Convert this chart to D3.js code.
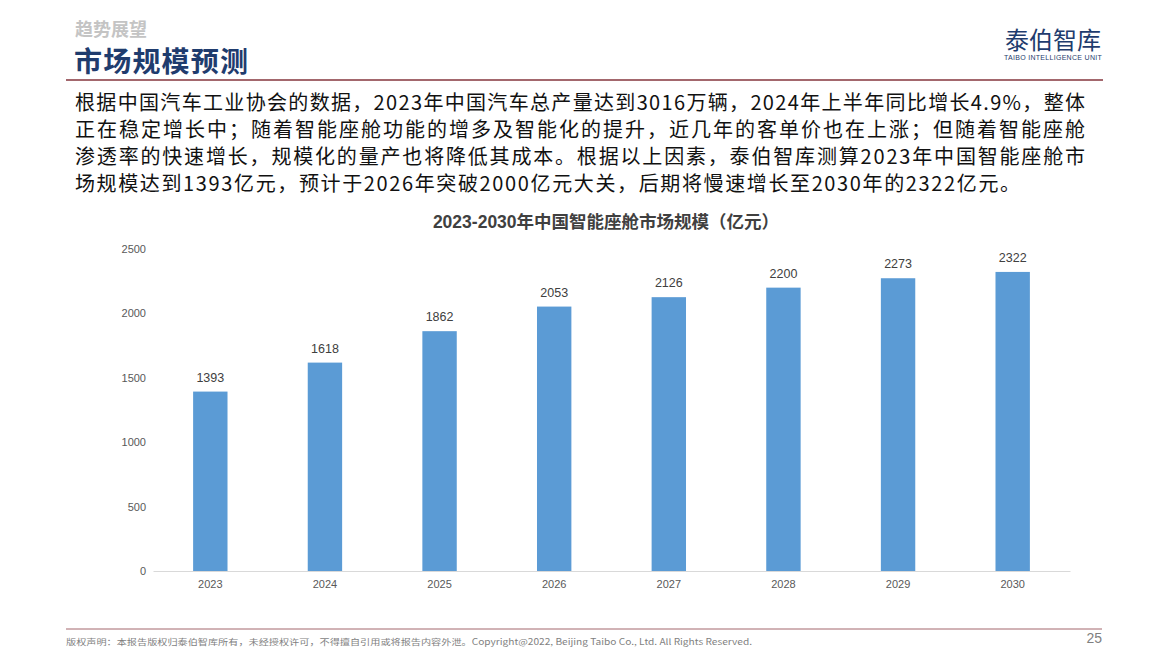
<!DOCTYPE html>
<html><head><meta charset="utf-8">
<script src="https://cdn.jsdelivr.net/npm/d3@7"></script>
<style>
html,body{margin:0;padding:0;background:#fff;}
svg{display:block;}
</style></head>
<body>
<svg id="c" width="1167" height="654"></svg>
<script>
const years = ["2023","2024","2025","2026","2027","2028","2029","2030"];
const values = [1393,1618,1862,2053,2126,2200,2273,2322];
const yTicks = [0,500,1000,1500,2000,2500];
const paragraph = [
  "根据中国汽车工业协会的数据，2023年中国汽车总产量达到3016万辆，2024年上半年同比增长4.9%，整体",
  "正在稳定增长中；随着智能座舱功能的增多及智能化的提升，近几年的客单价也在上涨；但随着智能座舱",
  "渗透率的快速增长，规模化的量产也将降低其成本。根据以上因素，泰伯智库测算2023年中国智能座舱市",
  "场规模达到1393亿元，预计于2026年突破2000亿元大关，后期将慢速增长至2030年的2322亿元。"
];
const paraWidths = [1010,1010,1010,945];
const chartTitle = "2023-2030年中国智能座舱市场规模（亿元）";

const svg = d3.select("#c");
const cjk = "'Noto Sans CJK SC','Noto Sans',sans-serif";
const latin = "'Liberation Sans',Arial,'Noto Sans CJK SC',sans-serif";

// header
svg.append("text").attr("x",75).attr("y",36).attr("font-family",cjk).attr("font-weight","bold")
  .attr("font-size",18).attr("fill","#c4c4c4").text("趋势展望");
svg.append("text").attr("x",74).attr("y",72).attr("font-family",cjk).attr("font-weight","bold")
  .attr("font-size",28).attr("fill","#1f3c6e").attr("textLength",174).attr("lengthAdjust","spacing").text("市场规模预测");
svg.append("line").attr("x1",66).attr("x2",1103).attr("y1",80).attr("y2",80)
  .attr("stroke","#a3676d").attr("stroke-width",2.2);

// logo
svg.append("text").attr("x",1053).attr("y",49).attr("text-anchor","middle").attr("font-family",cjk)
  .attr("font-size",24).attr("fill","#1f3c6e").text("泰伯智库");
svg.append("text").attr("x",1053).attr("y",60).attr("text-anchor","middle").attr("font-family",latin)
  .attr("font-size",7).attr("fill","#1f3c6e").attr("letter-spacing",0.3).text("TAIBO INTELLIGENCE UNIT");

// paragraph
paragraph.forEach((line,i)=>{
  svg.append("text").attr("x",75).attr("y",110+i*27).attr("font-family",cjk)
    .attr("font-size",20).attr("fill","#111").text(line)
    .attr("textLength",paraWidths[i]).attr("lengthAdjust","spacing");
});

// chart title
svg.append("text").attr("x",606).attr("y",228).attr("text-anchor","middle").attr("font-family",latin)
  .attr("font-weight","bold").attr("font-size",17.5).attr("fill","#404040").text(chartTitle);

// scales
const x = d3.scaleBand().domain(years).range([153,1070]).paddingInner(0.7).paddingOuter(0.35);
const y = d3.scaleLinear().domain([0,2500]).range([571,249]);

// y axis labels
svg.append("g").attr("transform","translate(146,0)")
  .call(d3.axisLeft(y).tickValues(yTicks).tickFormat(d3.format("d")).tickSize(0).tickPadding(0))
  .call(g=>g.select(".domain").remove())
  .call(g=>g.selectAll("text").attr("font-family",latin).attr("font-size",11).attr("fill","#595959"));

// bars
svg.append("g").selectAll("rect").data(values).join("rect")
  .attr("x",(d,i)=>x(years[i])).attr("width",x.bandwidth())
  .attr("y",d=>y(d)).attr("height",d=>y(0)-y(d)).attr("fill","#5b9bd5");

// value labels
svg.append("g").selectAll("text").data(values).join("text")
  .attr("x",(d,i)=>x(years[i])+x.bandwidth()/2).attr("y",d=>y(d)-10)
  .attr("text-anchor","middle").attr("font-family",latin).attr("font-size",12.5).attr("fill","#404040")
  .text(d=>d);

// x axis
svg.append("g").attr("transform",`translate(0,${y(0)})`)
  .call(d3.axisBottom(x).tickSize(0).tickPadding(9).tickSizeOuter(0))
  .call(g=>g.select(".domain").attr("stroke","#d9d9d9"))
  .call(g=>g.selectAll("text").attr("font-family",latin).attr("font-size",11).attr("fill","#595959"));

// footer
svg.append("line").attr("x1",66).attr("x2",1102).attr("y1",629).attr("y2",629)
  .attr("stroke","#a3676d").attr("stroke-width",1);
svg.append("text").attr("x",66).attr("y",645).attr("font-family",cjk).attr("font-size",8.5)
  .attr("fill","#7f7f7f").attr("textLength",686).attr("lengthAdjust","spacingAndGlyphs")
  .text("版权声明：本报告版权归泰伯智库所有，未经授权许可，不得擅自引用或将报告内容外泄。Copyright@2022, Beijing Taibo Co., Ltd. All Rights Reserved.");
svg.append("text").attr("x",1102).attr("y",643).attr("text-anchor","end").attr("font-family",latin)
  .attr("font-size",14).attr("fill","#7f7f7f").text("25");
</script>
</body></html>
